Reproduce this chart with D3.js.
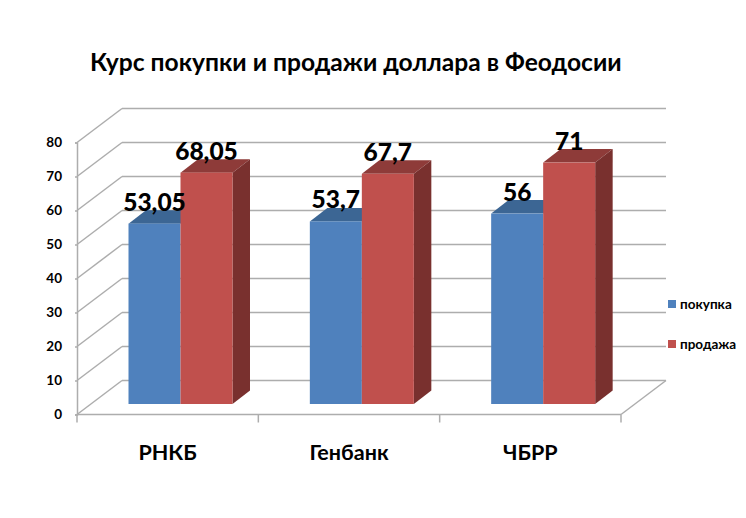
<!DOCTYPE html>
<html>
<head>
<meta charset="utf-8">
<script src="https://cdn.jsdelivr.net/npm/d3@7"></script>
<style>
  html, body { margin: 0; padding: 0; background: #fff; }
  svg { display: block; }
  text { font-family: Lato, "Noto Sans", sans-serif; font-weight: 700; fill: #000; }
</style>
</head>
<body>
<div id="chart"></div>
<script>
const titleText = 'Курс покупки и продажи доллара в Феодосии'
const categories = ['РНКБ', 'Генбанк', 'ЧБРР']
const buyValues = [53.05, 53.7, 56]
const sellValues = [68.05, 67.7, 71]
const buyLabels = ['53,05', '53,7', '56']
const sellLabels = ['68,05', '67,7', '71']
const yTicks = [0, 10, 20, 30, 40, 50, 60, 70, 80]
const seriesNames = ['покупка', 'продажа']

const chartW = 746, chartH = 518
const plotLeft = 77, plotRight = 621, plotTop = 142.5, plotBottom = 414.5
// смещение задней стенки и глубина столбика
const wallDx = 45, wallDy = -34
const barDx = 17.5, barDy = -13.5
const barShiftY = -10.5, barW = 52

const svg = d3.select('#chart').append('svg')
  .attr('width', chartW)
  .attr('height', chartH)

const x = d3.scaleBand().domain(categories).range([plotLeft, plotRight])
const y = d3.scaleLinear().domain([0, 80]).range([plotBottom, plotTop])

const gridColor = '#adadad'

// сетка: задняя стенка и левая грань
const grid = svg.append('g').attr('fill', 'none').attr('stroke', gridColor).attr('stroke-width', 1.5)
grid.selectAll('.back').data(yTicks).enter().append('line')
  .attr('x1', plotLeft + wallDx).attr('x2', plotRight + wallDx)
  .attr('y1', d => y(d) + wallDy).attr('y2', d => y(d) + wallDy)
grid.selectAll('.side').data(yTicks).enter().append('line')
  .attr('x1', plotLeft).attr('x2', plotLeft + wallDx)
  .attr('y1', d => y(d)).attr('y2', d => y(d) + wallDy)
grid.append('line')
  .attr('x1', plotRight).attr('x2', plotRight + wallDx)
  .attr('y1', y(0)).attr('y2', y(0) + wallDy)

// столбики
function drawBars(values, front, topColor, sideColor, offset, withSide) {
  const g = svg.append('g')
  const bx = (d, i) => x(categories[i]) + offset
  const barY = d => y(d) + barShiftY
  g.selectAll('.top').data(values).enter().append('path')
    .attr('fill', topColor)
    .attr('d', (d, i) => {
      const a = bx(d, i), b = barY(d)
      return d3.line()([[a, b], [a + barDx, b + barDy], [a + barW + barDx, b + barDy], [a + barW, b]]) + 'Z'
    })
  if (withSide) {
    g.selectAll('.side').data(values).enter().append('path')
      .attr('fill', sideColor)
      .attr('d', (d, i) => {
        const a = bx(d, i) + barW, b = barY(d), c = y(0) + barShiftY
        return d3.line()([[a, b], [a + barDx, b + barDy], [a + barDx, c + barDy], [a, c]]) + 'Z'
      })
  }
  g.selectAll('.front').data(values).enter().append('rect')
    .attr('fill', front)
    .attr('x', bx)
    .attr('y', barY)
    .attr('width', barW)
    .attr('height', d => y(0) - y(d))
}
drawBars(buyValues, '#4f81bd', '#3c6694', '#3c6694', 51.5, false)
drawBars(sellValues, '#c0504d', '#8e3b39', '#79302e', 103.5, true)

// оси
const yAxis = d3.axisLeft(y).tickValues(yTicks).tickSize(2).tickPadding(13)
svg.append('g')
  .attr('transform', `translate(${plotLeft},0)`)
  .call(yAxis)
  .call(g => g.selectAll('path,line').attr('stroke', gridColor).attr('stroke-width', 1.5))
  .call(g => g.selectAll('text').attr('font-size', 13.5).style('font-family', 'Lato, "Noto Sans", sans-serif'))

const xAxisLine = svg.append('g').attr('stroke', gridColor).attr('stroke-width', 1.5)
xAxisLine.append('line').attr('x1', plotLeft).attr('x2', plotRight).attr('y1', plotBottom).attr('y2', plotBottom)
xAxisLine.selectAll('.tick').data([...categories.map(c => x(c)), plotRight]).enter().append('line')
  .attr('x1', d => d).attr('x2', d => d)
  .attr('y1', plotBottom).attr('y2', plotBottom + 8)

svg.selectAll('.cat').data(categories).enter().append('text')
  .attr('x', d => x(d) + x.bandwidth() / 2)
  .attr('y', 460)
  .attr('text-anchor', 'middle')
  .attr('font-size', 21.5)
  .text(d => d)

// подписи значений
function drawLabels(values, labels, offset) {
  svg.selectAll(null).data(values).enter().append('text')
    .attr('x', (d, i) => x(categories[i]) + offset + barW / 2)
    .attr('y', d => y(d) + barShiftY + barDy + 0.5)
    .attr('text-anchor', 'middle')
    .attr('font-size', 24.5)
    .style('font-weight', 900)
    .text((d, i) => labels[i])
}
drawLabels(buyValues, buyLabels, 51.5)
drawLabels(sellValues, sellLabels, 103.5)

// заголовок
svg.append('text')
  .attr('x', 90)
  .attr('y', 71)
  .attr('font-size', 24.6)
  .text(titleText)

// легенда
const legendColors = ['#4f81bd', '#c0504d']
const legend = svg.selectAll('.legend').data(seriesNames).enter().append('g')
  .attr('transform', (d, i) => `translate(668,${304 + i * 40})`)
legend.append('rect').attr('x', 0).attr('y', -4).attr('width', 8).attr('height', 8)
  .attr('fill', (d, i) => legendColors[i])
legend.append('text').attr('x', 12).attr('y', 4.5).attr('font-size', 13.5).text(d => d)
</script>
</body>
</html>
